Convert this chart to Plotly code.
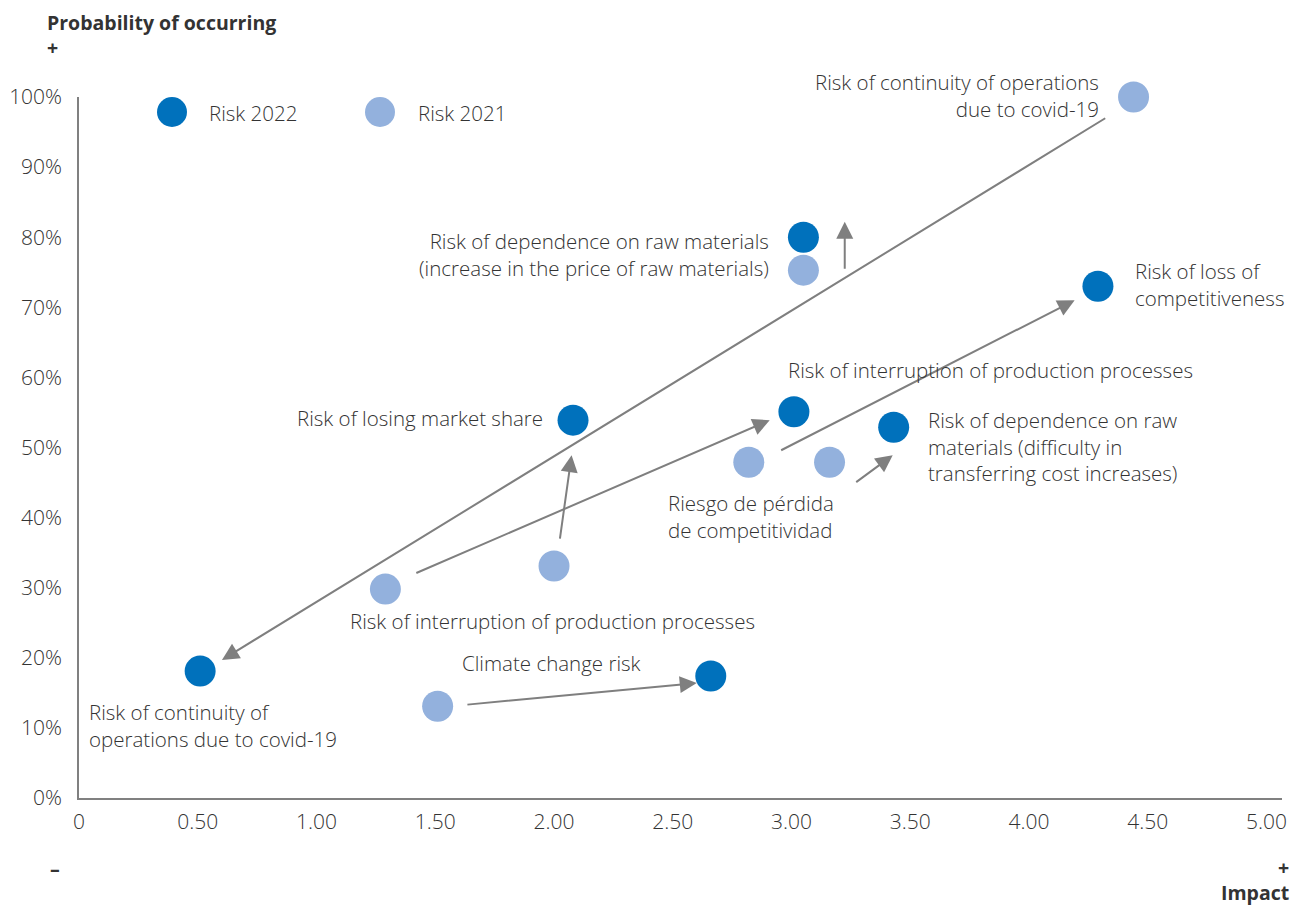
import plotly.graph_objects as go

# ---------------- data ----------------
risks = [
    "Continuity of operations due to covid-19",
    "Climate change",
    "Losing market share",
    "Interruption of production processes",
    "Dependence on raw materials (price)",
    "Dependence on raw materials (cost transfer)",
    "Loss of competitiveness",
]
impact_2022 = [0.51, 2.66, 2.08, 3.01, 3.05, 3.43, 4.29]
prob_2022 = [18.1, 17.4, 53.9, 55.1, 80.0, 52.9, 73.0]
impact_2021 = [4.44, 1.51, 2.00, 1.29, 3.05, 3.16, 2.82]
prob_2021 = [100.0, 13.1, 33.1, 29.8, 75.3, 47.9, 47.9]

x_tickvals = [0, 0.5, 1, 1.5, 2, 2.5, 3, 3.5, 4, 4.5, 5]
x_ticktext = ["0", "0.50", "1.00", "1.50", "2.00", "2.50", "3.00", "3.50", "4.00", "4.50", "5.00"]
y_tickvals = [0, 10, 20, 30, 40, 50, 60, 70, 80, 90, 100]
y_ticktext = ["0%", "10%", "20%", "30%", "40%", "50%", "60%", "70%", "80%", "90%", "100%"]

# arrows: (x_start, y_start, x_end, y_end)
arrows = [
    (4.327, 97.1, 0.602, 19.7),
    (3.224, 75.3, 3.224, 82.2),
    (2.950, 49.5, 4.192, 71.0),
    (1.414, 32.0, 2.908, 53.9),
    (2.024, 36.8, 2.074, 48.9),
    (3.266, 44.9, 3.426, 48.9),
    (1.629, 13.3, 2.601, 16.4),
]

# labels: (text, x, y, xanchor, align)
labels = [
    ("Risk of continuity of operations<br>due to covid-19", 4.301, 99.99, "right", "right"),
    ("Risk of dependence on raw materials<br>(increase in the price of raw materials)", 2.912, 77.6, "right", "right"),
    ("Risk of loss of<br>competitiveness", 4.436, 73.2, "left", "left"),
    ("Risk of interruption of production processes", 2.976, 61.1, "left", "left"),
    ("Risk of losing market share", 1.961, 54.2, "right", "right"),
    ("Risk of dependence on raw<br>materials (difficulty in<br>transferring cost increases)", 3.565, 50.2, "left", "left"),
    ("Riesgo de pérdida<br>de competitividad", 2.471, 40.1, "left", "left"),
    ("Risk of interruption of production processes", 1.132, 25.2, "left", "left"),
    ("Climate change risk", 1.604, 19.3, "left", "left"),
    ("Risk of continuity of<br>operations due to covid-19", 0.034, 10.4, "left", "left"),
]

DARK = "#0071BC"
LIGHT = "#93B1DD"
TEXT = "#333333"
ARROW = "#7F7F7F"
FONT = "Open Sans"
FS = 20.5
FS_TICK = 21
FS_BOLD = 19.5
LIGHTW = 300

fig = go.Figure()
fig.add_trace(go.Scatter(x=impact_2021, y=prob_2021, mode="markers", name="Risk 2021",
                         marker=dict(size=31, color=LIGHT, line=dict(width=0)),
                         cliponaxis=False, showlegend=False, hoverinfo="skip"))
fig.add_trace(go.Scatter(x=impact_2022, y=prob_2022, mode="markers", name="Risk 2022",
                         marker=dict(size=31, color=DARK, line=dict(width=0)),
                         cliponaxis=False, showlegend=False, hoverinfo="skip"))

annotations = []
for x0, y0, x1, y1 in arrows:
    annotations.append(dict(x=x1, y=y1, ax=x0, ay=y0, xref="x", yref="y", axref="x", ayref="y",
                            text="", showarrow=True, arrowhead=2, arrowsize=1.7, arrowwidth=2,
                            arrowcolor=ARROW, standoff=0, startstandoff=0))
for text, x, y, xa, al in labels:
    annotations.append(dict(x=x, y=y, xref="x", yref="y", text=text, showarrow=False,
                            xanchor=xa, yanchor="middle", align=al,
                            yshift=2 if y > 99 else 0,
                            font=dict(family=FONT, size=FS, color=TEXT, weight=LIGHTW)))

# legend (drawn manually)
legend_items = [("Risk 2022", DARK, 172, 207), ("Risk 2021", LIGHT, 380, 416)]
shapes = []
W, H = 1297, 905
L, R, T, B = 79, 15, 97, 107
pw, ph = W - L - R, H - T - B
def px(xp):
    return (xp - L) / pw
def py(yp):
    return (H - B - yp) / ph
for name, col, cx, tx in legend_items:
    shapes.append(dict(type="circle", xref="paper", yref="paper", xsizemode="pixel", ysizemode="pixel",
                       xanchor=px(cx), yanchor=py(112), x0=-15, x1=15, y0=-15, y1=15,
                       fillcolor=col, line=dict(width=0)))
    annotations.append(dict(x=px(tx), y=py(113), xref="paper", yref="paper", text=name, showarrow=False,
                            xanchor="left", yanchor="middle",
                            font=dict(family=FONT, size=FS, color=TEXT, weight=LIGHTW)))

# axis titles and +/- markers
bold = dict(family=FONT, size=FS_BOLD, color=TEXT)
annotations += [
    dict(x=px(46), y=py(34.5), xref="paper", yref="paper", text="<b>Probability of occurring<br>+</b>",
         showarrow=False, xanchor="left", yanchor="middle", align="left", font=bold, borderpad=0),
    dict(x=px(55), y=py(868), xref="paper", yref="paper", text="<b>–</b>",
         showarrow=False, xanchor="center", yanchor="middle", font=bold, borderpad=0),
    dict(x=px(1290), y=py(879.5), xref="paper", yref="paper", text="<b>+<br>Impact</b>",
         showarrow=False, xanchor="right", yanchor="middle", align="right", font=bold, borderpad=0),
]

fig.update_layout(
    width=W, height=H,
    margin=dict(l=L, r=R, t=T, b=B, pad=0),
    paper_bgcolor="white", plot_bgcolor="white",
    font=dict(family=FONT, size=FS, color=TEXT),
    annotations=annotations, shapes=shapes,
    showlegend=False,
)
tickfont = dict(family=FONT, size=FS_TICK, color=TEXT, weight=LIGHTW)
fig.update_xaxes(range=[0, 5.065], tickvals=x_tickvals, ticktext=x_ticktext, showgrid=False,
                 zeroline=False, showline=True, linecolor="#808080", linewidth=1.5, ticks="",
                 ticklabelstandoff=4, tickfont=tickfont, fixedrange=True, automargin=False)
fig.update_yaxes(range=[0, 100], tickvals=y_tickvals, ticktext=y_ticktext, showgrid=False,
                 zeroline=False, showline=True, linecolor="#808080", linewidth=1.5, ticks="",
                 ticklabelstandoff=11, tickfont=tickfont, fixedrange=True, automargin=False)

fig.write_html("out.html")
